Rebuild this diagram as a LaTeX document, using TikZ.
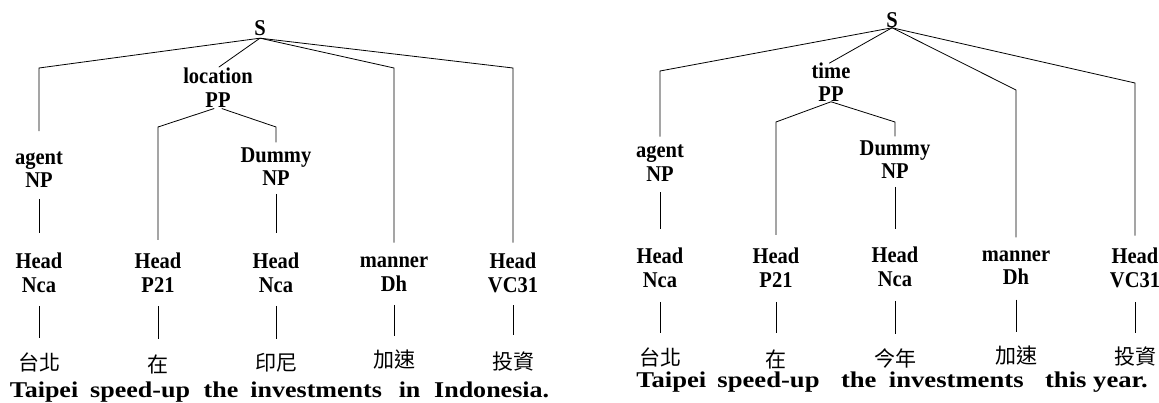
\documentclass[tikz,border=0pt]{standalone}
\usepackage{fontspec}
\usepackage{graphicx}
\setmainfont{Liberation Serif}
\newfontfamily\cjk{Noto Sans CJK TC}
% bold label lettering, set slightly taller than its natural proportions
\newcommand\tall[1]{\scalebox{1}[1.1]{#1}}
\begin{document}
\begin{tikzpicture}[x=1pt,y=-1pt,
  lbl/.style={font=\fontsize{20.5}{23.5}\selectfont\bfseries, align=center, inner sep=0pt},
  root/.style={font=\fontsize{20.5}{23.5}\selectfont\bfseries, inner sep=0pt},
  zh/.style={font=\cjk\fontsize{21}{21}\selectfont, inner sep=0pt},
  sent/.style={font=\fontsize{20.5}{24}\selectfont\bfseries, inner sep=0pt},
  branch/.style={line width=0.8pt, black}]
\useasboundingbox (0,0) rectangle (1159,403);

% ---------- tree 1: location PP ----------
\node[root, inner ysep=2.4pt] (S1) at (260,28) {\tall{S}};
\node[lbl] (ag1)  at (39,169.5)  {\tall{agent}\\\tall{NP}};
\node[lbl] (loc1) at (218,87.5)  {\tall{location}\\\tall{PP}};
\node[lbl] (dm1)  at (276,166.6) {\tall{Dummy}\\\tall{NP}};
\node[lbl] (h1a)  at (39,272.6)  {\tall{Head}\\\tall{Nca}};
\node[lbl] (h1b)  at (158,272.6) {\tall{Head}\\\tall{P21}};
\node[lbl] (h1c)  at (276,272.6) {\tall{Head}\\\tall{Nca}};
\node[lbl] (m1)   at (394,274)   {\tall{manner}\\\tall{Dh}};
\node[lbl] (h1e)  at (513,272.6) {\tall{Head}\\\tall{VC31}};
\node[zh] (w1a) at (39,362)  {台北};
\node[zh] (w1b) at (158,364) {在};
\node[zh] (w1c) at (276,363) {印尼};
\node[zh] (w1d) at (394,360) {加速};
\node[zh] (w1e) at (513,362) {投資};
\node[sent] (en1) at (279.5,392) {\scalebox{1.27}[1.1]{Taipei\hspace{9.4pt}speed-up\hspace{10.8pt}the\hspace{9.4pt}investments\hspace{13.2pt}in\hspace{10.8pt}Indonesia.}};

\coordinate (k1a) at (39,68);
\coordinate (k1d) at (394,68);
\coordinate (k1e) at (513,68);
\coordinate (k1p) at (158,127);
\coordinate (k1q) at (276,127);

\draw[branch, shorten >=20pt] (S1.south) -- (k1a) -- (ag1.north);
\draw[branch, shorten >=1pt] (S1.south) -- (loc1.north);
\draw[branch, shorten >=14pt] (S1.south) -- (k1d) -- (m1.north);
\draw[branch, shorten >=10pt] (S1.south) -- (k1e) -- (h1e.north);
\draw[branch, shorten <=4pt, shorten >=13pt] (loc1.south) -- (k1p) -- (h1b.north);
\draw[branch, shorten <=4pt, shorten >=5pt] (loc1.south) -- (k1q) -- (dm1.north);
\draw[branch, shorten <=11pt, shorten >=20pt] (ag1.south) -- (h1a.north);
\draw[branch, shorten <=8pt, shorten >=20pt] (dm1.south) -- (h1c.north);
\draw[branch, shorten <=13.5pt, shorten >=14.5pt] (h1a.south) -- (w1a.north);
\draw[branch, shorten <=14pt, shorten >=15pt] (h1b.south) -- (w1b.north);
\draw[branch, shorten <=13.5pt, shorten >=14.5pt] (h1c.south) -- (w1c.north);
\draw[branch, shorten <=13.5pt, shorten >=14.5pt] (m1.south) -- (w1d.north);
\draw[branch, shorten <=12.5pt, shorten >=17pt] (h1e.south) -- (w1e.north);

% ---------- tree 2: time PP ----------
\node[root, inner ysep=0pt] (S2) at (892,20) {\tall{S}};
\node[lbl] (ag2)  at (660,163)   {\tall{agent}\\\tall{NP}};
\node[lbl] (tm2)  at (831,82)    {\tall{time}\\\tall{PP}};
\node[lbl] (dm2)  at (895,159.6) {\tall{Dummy}\\\tall{NP}};
\node[lbl] (h2a)  at (660,267.6) {\tall{Head}\\\tall{Nca}};
\node[lbl] (h2b)  at (776,267.6) {\tall{Head}\\\tall{P21}};
\node[lbl] (h2c)  at (895,266.6) {\tall{Head}\\\tall{Nca}};
\node[lbl] (m2)   at (1016,267.7) {\tall{manner}\\\tall{Dh}};
\node[lbl] (h2e)  at (1135,267.6) {\tall{Head}\\\tall{VC31}};
\node[zh] (w2a) at (660,357)  {台北};
\node[zh] (w2b) at (776,359)  {在};
\node[zh] (w2c) at (895,358)  {今年};
\node[zh] (w2d) at (1016,356) {加速};
\node[zh] (w2e) at (1135,357) {投資};
\node[sent] (en2) at (892,382) {\scalebox{1.3}[1.1]{Taipei\hspace{8.5pt}speed-up\hspace{16.5pt}the\hspace{9.5pt}investments\hspace{16.5pt}this year.}};

\coordinate (k2a) at (660,71);
\coordinate (k2d) at (1016,90);
\coordinate (k2e) at (1135,83);
\coordinate (k2p) at (776,122);
\coordinate (k2q) at (895,122);

\draw[branch, shorten >=8pt] (S2.south) -- (k2a) -- (ag2.north);
\draw[branch, shorten >=-2pt] (S2.south) -- (tm2.north);
\draw[branch, shorten >=13pt] (S2.south) -- (k2d) -- (m2.north);
\draw[branch, shorten >=12pt] (S2.south) -- (k2e) -- (h2e.north);
\draw[branch, shorten >=13pt] (tm2.south) -- (k2p) -- (h2b.north);
\draw[branch, shorten >=4pt] (tm2.south) -- (k2q) -- (dm2.north);
\draw[branch, shorten <=11pt, shorten >=19pt] (ag2.south) -- (h2a.north);
\draw[branch, shorten <=8pt, shorten >=18pt] (dm2.south) -- (h2c.north);
\draw[branch, shorten <=14.5pt, shorten >=14.5pt] (h2a.south) -- (w2a.north);
\draw[branch, shorten <=14.5pt, shorten >=16pt] (h2b.south) -- (w2b.north);
\draw[branch, shorten <=14.5pt, shorten >=14.5pt] (h2c.south) -- (w2c.north);
\draw[branch, shorten <=14.5pt, shorten >=14.5pt] (m2.south) -- (w2d.north);
\draw[branch, shorten <=14.5pt, shorten >=14.5pt] (h2e.south) -- (w2e.north);
\end{tikzpicture}
\end{document}
